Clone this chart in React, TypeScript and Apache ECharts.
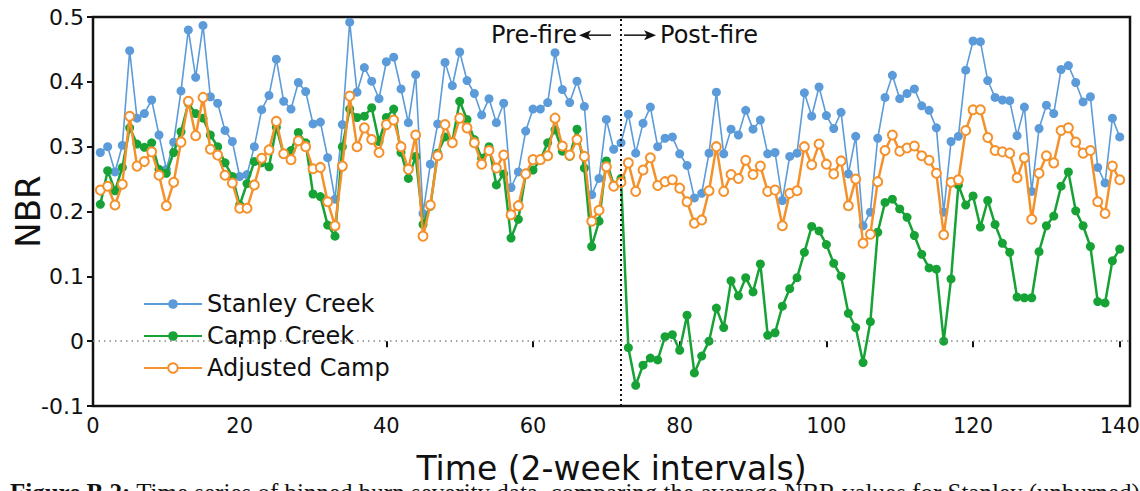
import React, { useEffect, useRef } from "react";
import * as echarts from "echarts";

// time steps (2-week intervals)
const timeSteps: number[] = [
  1,2,3,4,5,6,7,8,9,10,11,12,13,14,15,16,17,18,19,20,
  21,22,23,24,25,26,27,28,29,30,31,32,33,34,35,36,37,38,39,40,
  41,42,43,44,45,46,47,48,49,50,51,52,53,54,55,56,57,58,59,60,
  61,62,63,64,65,66,67,68,69,70,71,72,73,74,75,76,77,78,79,80,
  81,82,83,84,85,86,87,88,89,90,91,92,93,94,95,96,97,98,99,100,
  101,102,103,104,105,106,107,108,109,110,111,112,113,114,115,116,117,118,119,120,
  121,122,123,124,125,126,127,128,129,130,131,132,133,134,135,136,137,138,139,140,
];

const stanleyCreek: number[] = [
  0.291,0.300,0.261,0.302,0.448,0.344,0.351,0.372,0.318,0.265,
  0.307,0.386,0.480,0.407,0.487,0.377,0.367,0.325,0.308,0.254,
  0.257,0.300,0.357,0.379,0.435,0.370,0.358,0.399,0.385,0.335,
  0.338,0.283,0.219,0.334,0.492,0.384,0.422,0.401,0.374,0.431,
  0.438,0.389,0.337,0.411,0.197,0.273,0.335,0.430,0.394,0.446,
  0.402,0.382,0.349,0.374,0.337,0.367,0.237,0.261,0.324,0.358,
  0.358,0.368,0.445,0.388,0.368,0.401,0.362,0.226,0.251,0.342,
  0.296,0.306,0.350,0.290,0.336,0.361,0.300,0.313,0.315,0.289,
  0.271,0.221,0.228,0.290,0.384,0.289,0.327,0.318,0.356,0.327,
  0.341,0.289,0.291,0.217,0.285,0.290,0.383,0.347,0.392,0.348,
  0.328,0.353,0.258,0.316,0.178,0.199,0.313,0.376,0.410,0.374,
  0.382,0.389,0.363,0.356,0.329,0.199,0.308,0.316,0.418,0.463,
  0.462,0.402,0.376,0.372,0.371,0.317,0.361,0.231,0.328,0.364,
  0.351,0.419,0.425,0.399,0.369,0.377,0.268,0.244,0.344,0.315,
];

const campCreek: number[] = [
  0.211,0.263,0.232,0.268,0.329,0.304,0.299,0.306,0.265,0.259,
  0.291,0.323,0.367,0.351,0.344,0.318,0.300,0.275,0.254,0.210,
  0.243,0.277,0.275,0.269,0.330,0.288,0.294,0.322,0.306,0.227,
  0.223,0.179,0.162,0.300,0.358,0.345,0.347,0.360,0.308,0.345,
  0.358,0.291,0.251,0.285,0.180,0.208,0.290,0.315,0.308,0.370,
  0.342,0.311,0.282,0.300,0.241,0.258,0.159,0.188,0.257,0.264,
  0.280,0.306,0.326,0.293,0.285,0.327,0.267,0.146,0.185,0.278,
  0.241,0.251,-0.010,-0.068,-0.037,-0.026,-0.029,0.007,0.010,-0.014,
  0.040,-0.049,-0.023,0.000,0.051,0.021,0.093,0.070,0.098,0.076,
  0.119,0.009,0.013,0.054,0.081,0.098,0.137,0.177,0.170,0.149,
  0.120,0.100,0.043,0.021,-0.033,0.030,0.168,0.214,0.219,0.204,
  0.191,0.163,0.134,0.113,0.111,0.000,0.096,0.241,0.210,0.224,
  0.176,0.217,0.180,0.151,0.137,0.068,0.067,0.067,0.138,0.178,
  0.193,0.239,0.261,0.201,0.178,0.146,0.061,0.059,0.124,0.142,
];

const adjustedCamp: number[] = [
  0.233,0.239,0.210,0.242,0.347,0.270,0.277,0.292,0.256,0.209,
  0.245,0.307,0.370,0.317,0.376,0.296,0.287,0.256,0.244,0.205,
  0.205,0.241,0.282,0.295,0.339,0.289,0.280,0.309,0.300,0.266,
  0.268,0.215,0.178,0.270,0.378,0.300,0.329,0.311,0.291,0.334,
  0.341,0.300,0.265,0.318,0.162,0.210,0.286,0.334,0.306,0.344,
  0.329,0.306,0.273,0.294,0.267,0.287,0.195,0.209,0.258,0.280,
  0.280,0.286,0.344,0.301,0.287,0.311,0.285,0.185,0.202,0.269,
  0.239,0.245,0.275,0.231,0.264,0.283,0.240,0.246,0.249,0.236,
  0.215,0.182,0.187,0.232,0.300,0.231,0.257,0.251,0.279,0.257,
  0.270,0.231,0.233,0.178,0.228,0.232,0.300,0.272,0.304,0.273,
  0.258,0.278,0.209,0.250,0.151,0.165,0.246,0.294,0.318,0.293,
  0.298,0.301,0.286,0.279,0.259,0.164,0.245,0.249,0.325,0.357,
  0.357,0.314,0.294,0.292,0.290,0.252,0.283,0.188,0.259,0.286,
  0.275,0.325,0.329,0.307,0.290,0.294,0.215,0.197,0.270,0.249,
];

const seriesNames = ["Stanley Creek", "Camp Creek", "Adjusted Camp"];
const fireStep = 72;
const xTickLabels = ["0", "20", "40", "60", "80", "100", "120", "140"];
const captionLead = "Figure B.2:";
const captionRest = " Time series of binned burn severity data, comparing the average NBR values for Stanley (unburned)";

const BLUE = "#5B9BD9";
const GREEN = "#17A236";
const ORANGE = "#F5912B";
const FONT = "'DejaVu Sans', sans-serif";

export default function App() {
  const ref = useRef<HTMLDivElement>(null);
  useEffect(() => {
    if (!ref.current) return;
    const chart = echarts.init(ref.current, null, { renderer: "svg" });
    const pair = (arr: number[]) => arr.map((v, i) => [timeSteps[i], v]);
    chart.setOption({
      animation: false,
      backgroundColor: "#fff",
      grid: {
        left: 93, right: 10, top: 17, bottom: 85,
        outerBoundsMode: "none", containLabel: false,
        show: true, borderColor: "#111", borderWidth: 2.5,
      },
      xAxis: {
        type: "value", min: 0, max: 141.4, interval: 20,
        axisLine: { show: false },
        axisTick: { show: true, inside: false, length: 6, lineStyle: { color: "#111", width: 2 } },
        splitLine: { show: false },
        axisLabel: {
          fontSize: 21, color: "#111", fontFamily: FONT, margin: 9,
          formatter: (v: number) => (xTickLabels.includes(String(v)) ? String(v) : ""),
        },
        name: "Time (2-week intervals)", nameLocation: "middle", nameGap: 46,
        nameMoveOverlap: false,
        nameTextStyle: { fontSize: 33, color: "#111", fontFamily: FONT },
      },
      yAxis: {
        type: "value", min: -0.1, max: 0.5, interval: 0.1,
        axisLine: { show: false },
        axisTick: { show: true, inside: false, length: 6, lineStyle: { color: "#111", width: 2 } },
        splitLine: { show: false },
        axisLabel: {
          fontSize: 22, color: "#111", fontFamily: FONT, margin: 9,
          formatter: (v: number) => (Math.abs(v) < 1e-9 ? "0" : v.toFixed(1)),
        },
        name: "NBR", nameLocation: "middle", nameGap: 48, nameRotate: 90,
        nameMoveOverlap: false,
        nameTextStyle: { fontSize: 34, color: "#111", fontFamily: FONT },
      },
      legend: {
        orient: "vertical", left: 138, top: 287, itemGap: 8,
        itemWidth: 58, itemHeight: 12,
        textStyle: { fontSize: 24, color: "#111", fontFamily: FONT },
        data: seriesNames,
      },
      series: [
        {
          name: seriesNames[0], type: "line", data: pair(stanleyCreek),
          symbol: "circle", symbolSize: 9,
          lineStyle: { color: BLUE, width: 1.6 }, itemStyle: { color: BLUE },
          z: 2,
          markLine: {
            silent: true, symbol: ["none", "none"], label: { show: false },
            data: [
              { xAxis: fireStep, lineStyle: { type: [2, 3], color: "#111", width: 2 } },
              { yAxis: 0, lineStyle: { type: [1.5, 4], color: "#888", width: 1.5 } },
            ],
          },
        },
        {
          name: seriesNames[1], type: "line", data: pair(campCreek),
          symbol: "circle", symbolSize: 9,
          lineStyle: { color: GREEN, width: 2.5 }, itemStyle: { color: GREEN },
          z: 3,
        },
        {
          name: seriesNames[2], type: "line", data: pair(adjustedCamp),
          symbol: "emptyCircle", symbolSize: 9,
          lineStyle: { color: ORANGE, width: 2.5 },
          itemStyle: { color: ORANGE, borderColor: ORANGE, borderWidth: 2 },
          z: 4,
        },
      ],
    });

    const [fx, fy] = chart.convertToPixel({ xAxisIndex: 0, yAxisIndex: 0 }, [fireStep, 0.472]) as number[];
    const headL = 12, headH = 5;
    chart.setOption({
      graphic: [
        {
          type: "text", x: fx - 44, y: fy,
          style: { text: "Pre-fire", font: `24px ${FONT}`, fill: "#111", align: "right", verticalAlign: "middle" },
        },
        { type: "line", shape: { x1: fx - 36, y1: fy, x2: fx - 10, y2: fy }, style: { stroke: "#111", lineWidth: 1.5 } },
        {
          type: "polygon",
          shape: { points: [[fx - 42, fy], [fx - 42 + headL, fy - headH], [fx - 42 + headL - 3, fy], [fx - 42 + headL, fy + headH]] },
          style: { fill: "#111" },
        },
        { type: "line", shape: { x1: fx + 3, y1: fy, x2: fx + 28, y2: fy }, style: { stroke: "#111", lineWidth: 1.5 } },
        {
          type: "polygon",
          shape: { points: [[fx + 35, fy], [fx + 35 - headL, fy - headH], [fx + 35 - headL + 3, fy], [fx + 35 - headL, fy + headH]] },
          style: { fill: "#111" },
        },
        {
          type: "text", x: fx + 39, y: fy,
          style: { text: "Post-fire", font: `24px ${FONT}`, fill: "#111", align: "left", verticalAlign: "middle" },
        },
        {
          type: "text", x: 10, y: 480,
          style: {
            text: `{b|${captionLead}}{r|${captionRest}}`,
            verticalAlign: "top",
            rich: {
              b: { fontFamily: "'Liberation Serif', serif", fontWeight: "bold", fontSize: 25, fill: "#111" },
              r: { fontFamily: "'Liberation Serif', serif", fontSize: 25, fill: "#111" },
            },
          },
        },
      ],
    });

    return () => chart.dispose();
  }, []);
  return <div ref={ref} style={{ position: "fixed", left: 0, top: 0, width: 1140, height: 491 }} />;
}
